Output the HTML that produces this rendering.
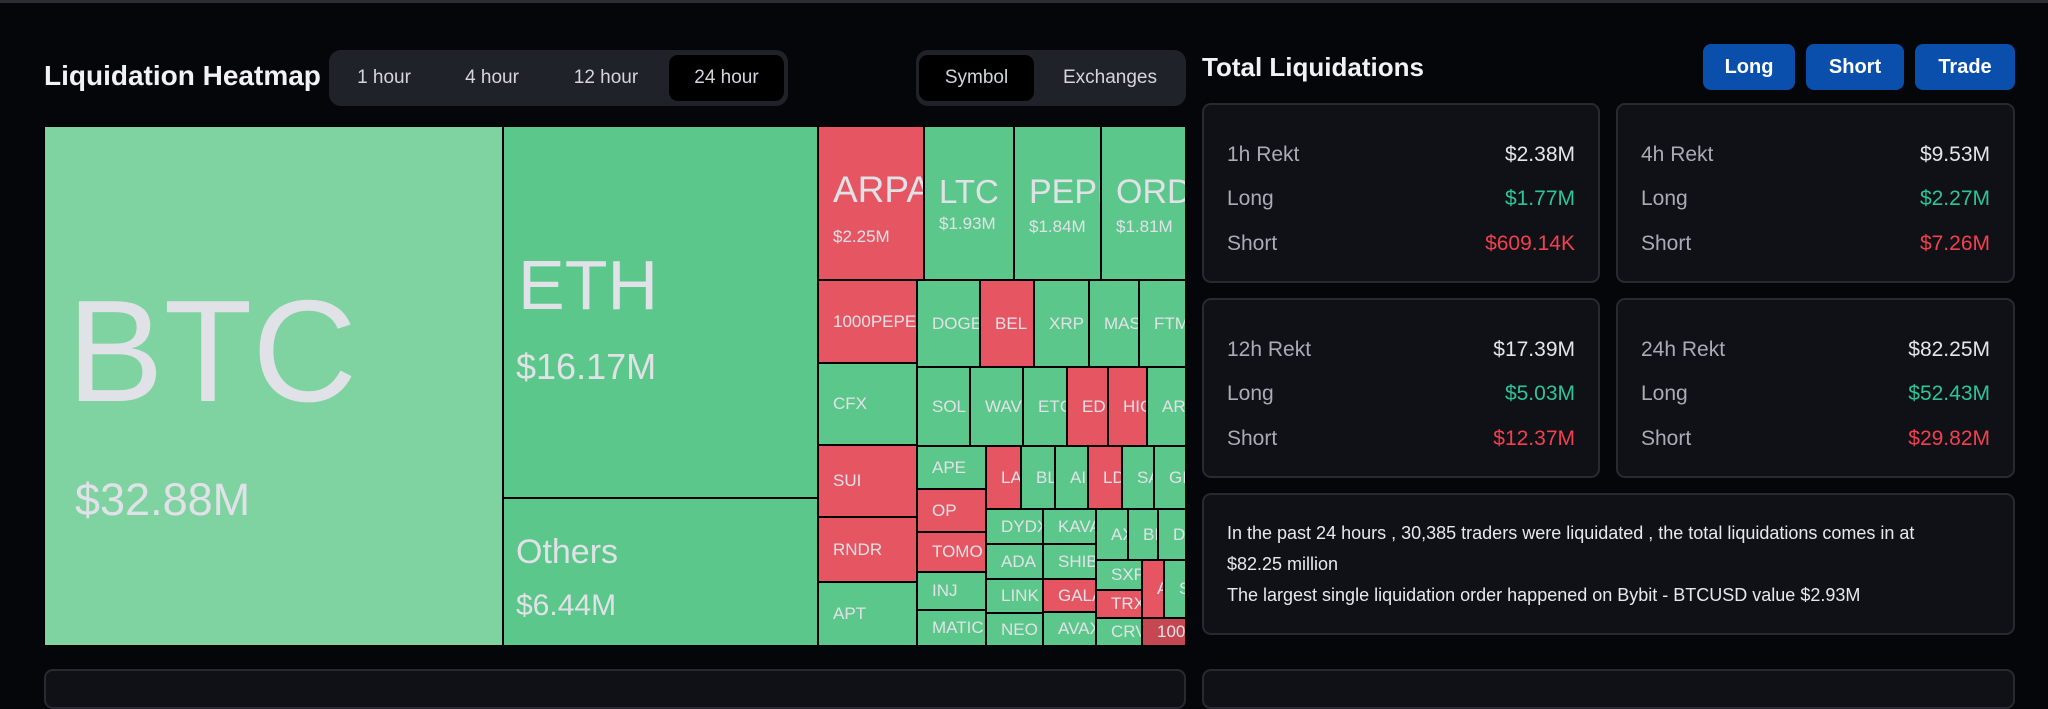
<!DOCTYPE html>
<html><head><meta charset="utf-8">
<style>
*{box-sizing:border-box;margin:0;padding:0}
body{width:2048px;height:676px;background:#05060a;font-family:"Liberation Sans",sans-serif;color:#e4e5ea;position:relative;overflow:hidden}
.abs{position:absolute}
#topline{left:0;top:0;width:2048px;height:3px;background:#2a2d33}
.title{font-weight:bold;color:#f2f2f5;white-space:nowrap}
.grp{background:#1f2229;border-radius:12px}
.tab{position:absolute;top:0;height:100%;display:flex;align-items:center;justify-content:center;font-size:19px;color:#d4d6dc;border-radius:9px}
.tab.active{background:#000;top:5px;height:calc(100% - 10px)}
.btn{background:#0a4fab;border-radius:8px;color:#fff;font-weight:bold;font-size:20px;display:flex;align-items:center;justify-content:center}
.card{background:#0f1116;border:2px solid #272a31;border-radius:9px}
.row{position:absolute;left:23px;right:23px;display:flex;justify-content:space-between;font-size:21px;height:30px;align-items:center}
.row .l{color:#a9acb6}
.g{color:#2ec49a}.r{color:#f2404f}
#tm{left:44px;top:126px;width:1142px;height:520px;background:#000}
.tile{position:absolute;overflow:hidden;border:1px solid #000;color:#e1e2e8;white-space:nowrap}
.tile .n{position:absolute;left:14px;font-size:17px;top:50%;transform:translateY(-50%)}
.info{font-size:18px;line-height:31px;color:#e8e9ee}
</style></head><body>
<div id="topline" class="abs"></div>

<div class="abs title" style="left:44px;top:60px;font-size:28px">Liquidation Heatmap</div>
<div class="abs grp" style="left:329px;top:50px;width:459px;height:56px">
  <div class="tab" style="left:15px;width:80px">1 hour</div>
  <div class="tab" style="left:123px;width:80px">4 hour</div>
  <div class="tab" style="left:232px;width:90px">12 hour</div>
  <div class="tab active" style="left:340px;width:115px">24 hour</div>
</div>
<div class="abs grp" style="left:916px;top:50px;width:270px;height:56px">
  <div class="tab active" style="left:3px;width:115px">Symbol</div>
  <div class="tab" style="left:130px;width:128px">Exchanges</div>
</div>

<div id="tm" class="abs"></div>

<div class="abs title" style="left:1202px;top:52px;font-size:26px">Total Liquidations</div>
<div class="abs btn" style="left:1703px;top:44px;width:92px;height:46px">Long</div>
<div class="abs btn" style="left:1806px;top:44px;width:98px;height:46px">Short</div>
<div class="abs btn" style="left:1915px;top:44px;width:100px;height:46px">Trade</div>

<div class="abs card" style="left:1202px;top:103px;width:398px;height:180px">
  <div class="row" style="top:35px"><span class="l">1h Rekt</span><span>$2.38M</span></div>
  <div class="row" style="top:79px"><span class="l">Long</span><span class="g">$1.77M</span></div>
  <div class="row" style="top:124px"><span class="l">Short</span><span class="r">$609.14K</span></div>
</div>
<div class="abs card" style="left:1616px;top:103px;width:399px;height:180px">
  <div class="row" style="top:35px"><span class="l">4h Rekt</span><span>$9.53M</span></div>
  <div class="row" style="top:79px"><span class="l">Long</span><span class="g">$2.27M</span></div>
  <div class="row" style="top:124px"><span class="l">Short</span><span class="r">$7.26M</span></div>
</div>
<div class="abs card" style="left:1202px;top:298px;width:398px;height:180px">
  <div class="row" style="top:35px"><span class="l">12h Rekt</span><span>$17.39M</span></div>
  <div class="row" style="top:79px"><span class="l">Long</span><span class="g">$5.03M</span></div>
  <div class="row" style="top:124px"><span class="l">Short</span><span class="r">$12.37M</span></div>
</div>
<div class="abs card" style="left:1616px;top:298px;width:399px;height:180px">
  <div class="row" style="top:35px"><span class="l">24h Rekt</span><span>$82.25M</span></div>
  <div class="row" style="top:79px"><span class="l">Long</span><span class="g">$52.43M</span></div>
  <div class="row" style="top:124px"><span class="l">Short</span><span class="r">$29.82M</span></div>
</div>
<div class="abs card info" style="left:1202px;top:493px;width:813px;height:142px;padding:23px 0 0 23px">
  In the past 24 hours , 30,385 traders were liquidated , the total liquidations comes in at<br>$82.25 million<br>The largest single liquidation order happened on Bybit - BTCUSD value $2.93M
</div>
<div class="abs card" style="left:44px;top:669px;width:1142px;height:40px"></div>
<div class="abs card" style="left:1202px;top:669px;width:813px;height:40px"></div>

<script>
// Treemap data (values in $M); G=green, R=red, L=light green, D=dark red
const names = ["BTC","ETH","Others","ARPA","LTC","PEPE","ORDI","1000PEPE","CFX","SUI","RNDR","APT","DOGE","BEL","XRP","MAS","FTM","SOL","WAV","ETC","EDU","HIG","AR","APE","OP","TOMO","INJ","MATIC","LA","BL","AI","LD","SA","GI","DYDX","ADA","LINK","NEO","KAVA","SHIB","GALA","AVAX","AX","BI","D","SXP","TRX","A","S","CRV","100"];
const values = [32.88,16.17,6.44,2.25,1.93,1.84,1.81,1.14,1.11,0.99,0.89,0.88,0.76,0.64,0.66,0.60,0.57,0.574,0.563,0.476,0.444,0.422,0.422,0.41,0.41,0.38,0.36,0.34,0.306,0.297,0.289,0.289,0.28,0.28,0.277,0.277,0.269,0.261,0.253,0.253,0.238,0.245,0.226,0.212,0.198,0.19,0.179,0.177,0.177,0.179,0.171];
const colors = ["L","G","G","R","G","G","G","R","G","R","R","G","G","R","G","G","G","G","G","G","R","R","G","G","R","R","G","G","R","G","G","R","G","G","G","G","G","G","G","G","R","G","G","G","G","G","R","R","G","G","D"];
const labels = {BTC:"$32.88M",ETH:"$16.17M",Others:"$6.44M",ARPA:"$2.25M",LTC:"$1.93M",PEPE:"$1.84M",ORDI:"$1.81M"};
const palette = {L:"#7fd3a1",G:"#5cc78a",R:"#e55662",D:"#c54751"};
// big-label styles (not data)
const bigStyle = {
  BTC:{nx:22,ny:152,nf:145,vx:30,vy:350,vf:45},
  ETH:{nx:14,ny:123,nf:70,vx:12,vy:222,vf:36},
  Others:{nx:12,ny:36,nf:34,vx:12,vy:92,vf:30},
  ARPA:{nx:14,ny:44,nf:37,vx:14,vy:101,vf:17},
  LTC:{nx:14,ny:48,nf:33,vx:14,vy:88,vf:17},
  PEPE:{nx:14,ny:48,nf:34,vx:14,vy:91,vf:17},
  ORDI:{nx:14,ny:48,nf:34,vx:14,vy:91,vf:17}
};
// layout tree (indices into arrays); 'h' = side by side, 'v' = stacked
const tree = {d:"h",c:[0,{d:"v",c:[1,2]},{d:"v",c:[
  {d:"h",c:[3,4,5,6]},
  {d:"h",c:[
    {d:"v",c:[7,8,9,10,11]},
    {d:"v",c:[
      {d:"h",c:[12,13,14,15,16]},
      {d:"h",c:[17,18,19,20,21,22]},
      {d:"h",c:[
        {d:"v",c:[23,24,25,26,27]},
        {d:"v",c:[
          {d:"h",c:[28,29,30,31,32,33]},
          {d:"h",c:[
            {d:"v",c:[34,35,36,37]},
            {d:"v",c:[38,39,40,41]},
            {d:"v",c:[
              {d:"h",c:[42,43,44]},
              {d:"h",c:[{d:"v",c:[45,46]},47,48]},
              {d:"h",c:[49,50]}
            ]}
          ]}
        ]}
      ]}
    ]}
  ]}
]}]};
function sum(n){return typeof n==="number"?values[n]:n.c.reduce((a,b)=>a+sum(b),0);}
const tm=document.getElementById('tm');
function layout(n,x,y,w,h){
  if(typeof n==="number"){drawTile(n,x,y,w,h);return;}
  const tot=sum(n);let off=0;
  n.c.forEach(ch=>{const s=sum(ch)/tot;
    if(n.d==="h"){layout(ch,x+off,y,w*s,h);off+=w*s;}
    else{layout(ch,x,y+off,w,h*s);off+=h*s;}});
}
function drawTile(i,x,y,w,h){
  const t=document.createElement('div');
  t.className='tile';
  
  
  t.style.left=Math.round(x)+'px';t.style.top=Math.round(y)+'px';
  t.style.width=(Math.round(x+w)-Math.round(x))+'px';t.style.height=(Math.round(y+h)-Math.round(y))+'px';
  t.style.background=palette[colors[i]];
  const st=bigStyle[names[i]];
  if(st){
    const a=document.createElement('div');a.className='abs';
    
    
    a.style.cssText=`left:${st.nx}px;top:${st.ny}px;font-size:${st.nf}px;line-height:1`;
    a.textContent=names[i];t.appendChild(a);
    const b=document.createElement('div');b.className='abs';
    
    
    b.style.cssText=`left:${st.vx}px;top:${st.vy}px;font-size:${st.vf}px;line-height:1`;
    b.textContent=labels[names[i]];t.appendChild(b);
  } else {
    const a=document.createElement('div');a.className='n';
    
    
    a.textContent=names[i];t.appendChild(a);
  }
  tm.appendChild(t);
}
layout(tree,0,0,1142,520);
</script>
</body></html>
